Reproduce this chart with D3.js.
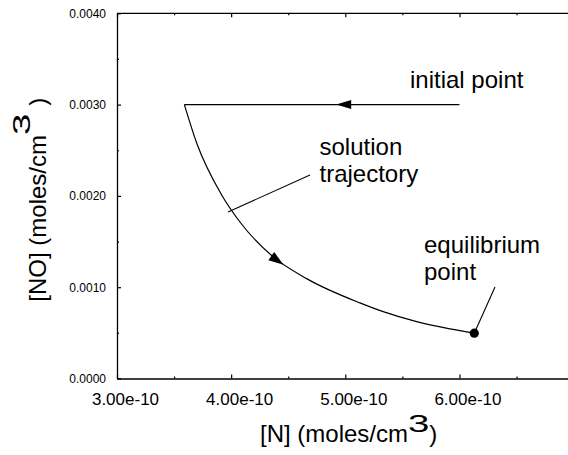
<!DOCTYPE html>
<html>
<head>
<meta charset="utf-8">
<script src="https://cdn.jsdelivr.net/npm/d3@7"></script>
<style>
  html, body { margin: 0; padding: 0; background: #fff; }
  svg { display: block; font-family: "Liberation Sans", Arial, sans-serif; }
</style>
</head>
<body>
<svg id="chart" width="568" height="455"></svg>
<script>
// Tick values for both axes
const xMajorTicks = [3.0e-10, 4.0e-10, 5.0e-10, 6.0e-10, 7.0e-10];
const xMinorTicks = [3.5e-10, 4.5e-10, 5.5e-10, 6.5e-10];
const xTickLabels = ["3.00e-10", "4.00e-10", "5.00e-10", "6.00e-10", ""];
const yMajorTicks = [0.0, 0.001, 0.002, 0.003, 0.004];
const yMinorTicks = [0.0005, 0.0015, 0.0025, 0.0035];
const yTickLabels = ["0.0000", "0.0010", "0.0020", "0.0030", "0.0040"];

// Initial leg: from the initial point straight left at constant [NO]
const initialN  = [6.0e-10, 3.59e-10];
const initialNO = [0.0030, 0.0030];

// Solution trajectory down to equilibrium
const trajN  = [3.59e-10, 3.698e-10, 3.917e-10, 4.077e-10, 4.369e-10, 4.661e-10,
                5.128e-10, 5.332e-10, 5.625e-10, 5.917e-10, 6.13e-10];
const trajNO = [0.00300, 0.00258, 0.00201, 0.001714, 0.001332, 0.001094,
                0.000828, 0.000732, 0.000623, 0.000543, 0.000496];

// Equilibrium point
const eqN = 6.13e-10;
const eqNO = 0.000496;

const svg = d3.select("#chart");
const x = d3.scaleLinear().domain([3.0e-10, 7.0e-10]).range([117, 573.6]);
const y = d3.scaleLinear().domain([0, 0.004]).range([378.5, 13.3]);

const ink = "#000";

// Frame: top line and right side (right side runs off the page)
const frame = svg.append("g").attr("stroke", ink).attr("stroke-width", 1.3).attr("fill", "none");
frame.append("line").attr("x1", x(3e-10)).attr("x2", x(7e-10)).attr("y1", y(0.004)).attr("y2", y(0.004));
frame.append("line").attr("x1", x(7e-10)).attr("x2", x(7e-10)).attr("y1", y(0.004)).attr("y2", y(0));

// Bottom axis with inward ticks
const xAxis = d3.axisBottom(x).tickValues(xMajorTicks)
  .tickFormat((d, i) => xTickLabels[i]).tickSize(-4).tickSizeOuter(0).tickPadding(14.5);
const gx = svg.append("g").attr("transform", `translate(0,${y(0)})`).call(xAxis);
gx.selectAll("text").attr("font-size", 17).attr("dx", 8).attr("fill", ink)
  .attr("font-family", "Liberation Sans, Arial, sans-serif");
svg.append("g").attr("transform", `translate(0,${y(0)})`)
  .call(d3.axisBottom(x).tickValues(xMinorTicks).tickFormat("").tickSize(-2).tickSizeOuter(0))
  .select(".domain").remove();
// Top axis ticks
svg.append("g").attr("transform", `translate(0,${y(0.004)})`)
  .call(d3.axisTop(x).tickValues(xMajorTicks).tickFormat("").tickSize(-4).tickSizeOuter(0))
  .select(".domain").remove();
svg.append("g").attr("transform", `translate(0,${y(0.004)})`)
  .call(d3.axisTop(x).tickValues(xMinorTicks).tickFormat("").tickSize(-2).tickSizeOuter(0))
  .select(".domain").remove();

// Left axis
const yAxis = d3.axisLeft(y).tickValues(yMajorTicks)
  .tickFormat((d, i) => yTickLabels[i]).tickSize(-4).tickSizeOuter(0).tickPadding(11);
const gy = svg.append("g").attr("transform", `translate(${x(3e-10)},0)`).call(yAxis);
gy.selectAll("text").attr("font-size", 12).attr("fill", ink)
  .attr("font-family", "Liberation Sans, Arial, sans-serif");
svg.append("g").attr("transform", `translate(${x(3e-10)},0)`)
  .call(d3.axisLeft(y).tickValues(yMinorTicks).tickFormat("").tickSize(-2).tickSizeOuter(0))
  .select(".domain").remove();

svg.selectAll(".domain").attr("stroke", ink).attr("stroke-width", 1.3);
svg.selectAll(".tick line").attr("stroke", ink).attr("stroke-width", 1.2);

// Trajectory lines
const lineLin = d3.line().x(d => x(d[0])).y(d => y(d[1]));
const lineCurve = d3.line().x(d => x(d[0])).y(d => y(d[1])).curve(d3.curveMonotoneX);
const initialPts = initialN.map((n, i) => [n, initialNO[i]]);
const trajPts = trajN.map((n, i) => [n, trajNO[i]]);

svg.append("path").datum(initialPts).attr("d", lineLin)
  .attr("fill", "none").attr("stroke", ink).attr("stroke-width", 1.2);
const curvePath = svg.append("path").datum(trajPts).attr("d", lineCurve)
  .attr("fill", "none").attr("stroke", ink).attr("stroke-width", 1.2);

// Arrowhead helper: tip at (tx,ty), pointing along angle a (radians)
function arrowHead(tx, ty, a, len, half) {
  const bx = tx - len * Math.cos(a), by = ty - len * Math.sin(a);
  const px = -Math.sin(a) * half, py = Math.cos(a) * half;
  svg.append("path")
    .attr("d", `M${tx},${ty}L${bx + px},${by + py}L${bx - px},${by - py}Z`)
    .attr("fill", ink);
}
// Arrow on the initial leg, pointing left
arrowHead(x(4.92e-10), y(0.0030), Math.PI, 15, 4.5);

// Arrow on the curve: find the point on the rendered path nearest the target N
(function () {
  const node = curvePath.node();
  const total = node.getTotalLength();
  const targetX = x(4.46e-10);
  let best = 0, bestD = Infinity;
  for (let s = 0; s <= total; s += 0.5) {
    const p = node.getPointAtLength(s);
    const d = Math.abs(p.x - targetX);
    if (d < bestD) { bestD = d; best = s; }
  }
  const p = node.getPointAtLength(best);
  const q = node.getPointAtLength(Math.max(0, best - 3));
  arrowHead(p.x, p.y, Math.atan2(p.y - q.y, p.x - q.x), 15, 5);
})();

// Equilibrium point
svg.append("circle").attr("cx", x(eqN)).attr("cy", y(eqNO)).attr("r", 4.6).attr("fill", ink);

// Annotations
const annFont = 24;
function label(lines, px, py) {
  const t = svg.append("text").attr("font-size", annFont).attr("fill", ink);
  lines.forEach((s, i) => t.append("tspan").attr("x", px).attr("y", py + i * 26.7).text(s));
}
label(["initial point"], 410, 88.3);
label(["solution", "trajectory"], 319.5, 155);
label(["equilibrium", "point"], 424, 253.3);

// Leader lines
svg.append("line").attr("x1", 310).attr("y1", 175).attr("x2", 228).attr("y2", 212)
  .attr("stroke", ink).attr("stroke-width", 1.1);
svg.append("line").attr("x1", 495).attr("y1", 287).attr("x2", x(eqN)).attr("y2", y(eqNO))
  .attr("stroke", ink).attr("stroke-width", 1.1);

// Axis titles with raised, widened superscript
function title(g, main, sup, close, baseX, baseY, raise, gap) {
  const t1 = g.append("text").attr("x", baseX).attr("y", baseY).attr("font-size", 24).attr("fill", ink).text(main);
  const w1 = t1.node().getComputedTextLength();
  const sx = 1.6;
  const t2 = g.append("text").attr("font-size", 24).attr("fill", ink)
    .attr("transform", `translate(${baseX + w1},${baseY - raise}) scale(${sx},1)`).text(sup);
  const w2 = t2.node().getComputedTextLength() * sx;
  g.append("text").attr("x", baseX + w1 + w2 + gap).attr("y", baseY).attr("font-size", 24).attr("fill", ink).text(close);
}
title(svg.append("g"), "[N] (moles/cm", "3", ")", 260, 441.7, 10, 0);
title(svg.append("g").attr("transform", "translate(46,301.7) rotate(-90)"),
  "[NO] (moles/cm", "3", ")", 0, 0, 16, 8);
</script>
</body>
</html>
